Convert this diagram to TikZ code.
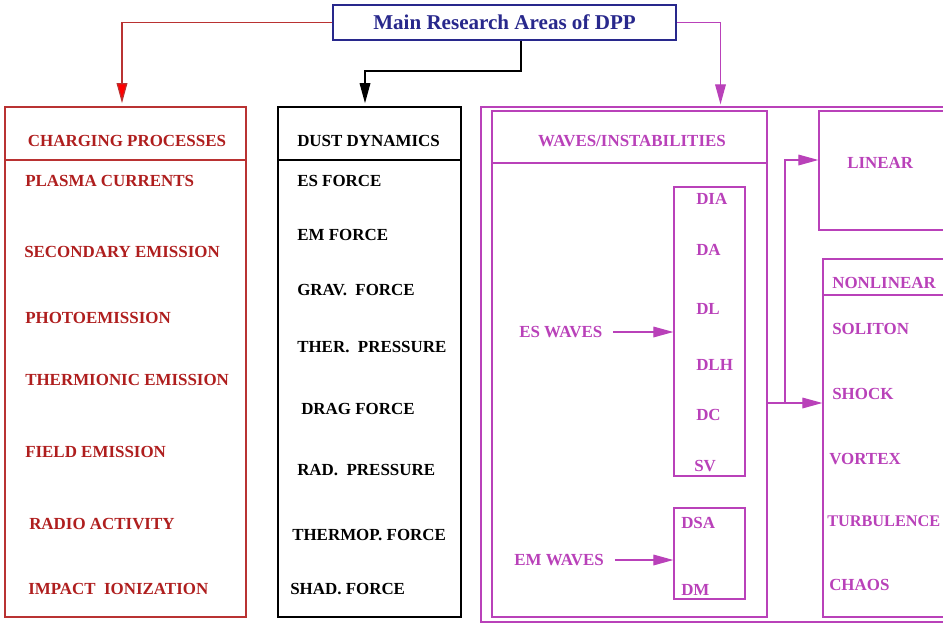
\documentclass[tikz,border=0pt]{standalone}
\usepackage{fontspec}
\setmainfont{Liberation Serif}
\usetikzlibrary{positioning,arrows.meta,calc}
\definecolor{dppred}{RGB}{185,50,50}
\definecolor{dpptext}{RGB}{175,30,30}
\definecolor{dppblue}{RGB}{40,40,140}
\definecolor{dppmag}{RGB}{185,65,185}

\begin{document}
\begin{tikzpicture}[x=0.75pt, y=-0.75pt,
      frame/.style={draw, line width=1.2pt, minimum width=#1, inner sep=0pt},
      lbl/.style={anchor=west, inner sep=0pt, font=\fontsize{12.7}{14}\selectfont\bfseries},
      hd/.style={inner sep=0pt, font=\fontsize{12.7}{14}\selectfont\bfseries},
      arr/.style={-{Triangle[length=15pt, width=8pt]}, line width=0.9pt}]
    \useasboundingbox (0,0) rectangle (943,625);
    \clip (0,0) rectangle (943,625);
    % title
    \node[draw=dppblue, line width=1.8pt, minimum width=257pt, minimum height=26pt,
          text=dppblue, font=\fontsize{15.8}{18}\selectfont\bfseries] (title) at (504.5,22.5)
          {Main Research Areas of DPP};
    % three columns
    \node[frame=181pt, draw=dppred, minimum height=382.5pt] (charge) at (125.5,362) {};
    \node[frame=137pt, draw=black, minimum height=382.5pt] (dust) at (369.5,362) {};
    \node[frame=359pt, draw=dppmag, minimum height=386pt] (outer) at (720.5,364.5) {};
    \node[frame=206pt, draw=dppmag, minimum height=379.5pt] (waves) at (629.5,364) {};
    \node[frame=53pt, draw=dppmag, minimum height=217pt] (esbox) at (709.5,331.5) {};
    \node[frame=53pt, draw=dppmag, minimum height=68pt] (embox) at (709.5,553.5) {};
    \node[frame=113pt, draw=dppmag, minimum height=89pt] (linear) at (894.5,170.5) {};
    \node[frame=110pt, draw=dppmag, minimum height=268.5pt] (nonlin) at (896.5,438) {};
    \draw[dppred, line width=1.2pt] (charge.west |- 0,160) -- (charge.east |- 0,160);
    \draw[black, line width=1.2pt] (dust.west |- 0,160) -- (dust.east |- 0,160);
    \draw[dppmag, line width=1.2pt] (waves.west |- 0,163) -- (waves.east |- 0,163);
    \draw[dppmag, line width=1.2pt] (nonlin.west |- 0,295) -- (nonlin.east |- 0,295);
    % connectors from the title
    \draw[arr, dppred, -{Triangle[length=15pt, width=8pt, fill=red]}] (title.west) -| ($(charge.north)+(-3.5,-3)$);
    \draw[arr, black] ($(title.south)+(16.5,0)$) -- ++(0,30) -| ($(dust.north)+(-4.5,-3)$);
    \draw[arr, dppmag] (title.east) -| ($(outer.north)+(0,-2)$);
    % charging processes
    \node[hd, text=dpptext] (chargehd) at (127,141) {CHARGING PROCESSES};
    \node[lbl, text=dpptext] (plasma) at (25,181) {PLASMA CURRENTS};
    \node[lbl, text=dpptext] (second) at (24,252) {SECONDARY EMISSION};
    \node[lbl, text=dpptext] (photo) at (25,318) {PHOTOEMISSION};
    \node[lbl, text=dpptext] (thermion) at (25,380) {THERMIONIC EMISSION};
    \node[lbl, text=dpptext] (field) at (25,452) {FIELD EMISSION};
    \node[lbl, text=dpptext] (radio) at (29,524) {RADIO ACTIVITY};
    \node[lbl, text=dpptext] (impact) at (28,589) {IMPACT\ \ IONIZATION};
    % dust dynamics
    \node[lbl] (dusthd) at (297,141) {DUST DYNAMICS};
    \node[lbl] (esforce) at (297,181) {ES FORCE};
    \node[lbl] (emforce) at (297,235) {EM FORCE};
    \node[lbl] (grav) at (297,290) {GRAV.\ \ FORCE};
    \node[lbl] (therp) at (297,347) {THER.\ \ PRESSURE};
    \node[lbl] (drag) at (301,409) {DRAG FORCE};
    \node[lbl] (radp) at (297,470) {RAD.\ \ PRESSURE};
    \node[lbl] (thermop) at (292,535) {THERMOP. FORCE};
    \node[lbl] (shad) at (290,589) {SHAD. FORCE};
    % waves / instabilities
    \node[hd, text=dppmag] (waveshd) at (632,141) {WAVES/INSTABILITIES};
    \node[lbl, text=dppmag] (eswaves) at (519,332) {ES WAVES};
    \node[lbl, text=dppmag] (emwaves) at (514,560) {EM WAVES};
    \node[lbl, text=dppmag] (dia) at (696,199) {DIA};
    \node[lbl, text=dppmag] (da) at (696,250) {DA};
    \node[lbl, text=dppmag] (dl) at (696,309) {DL};
    \node[lbl, text=dppmag] (dlh) at (696,365) {DLH};
    \node[lbl, text=dppmag] (dc) at (696,415) {DC};
    \node[lbl, text=dppmag] (sv) at (694,466) {SV};
    \node[lbl, text=dppmag] (dsa) at (681,523) {DSA};
    \node[lbl, text=dppmag] (dm) at (681,590) {DM};
    \draw[arr, dppmag] ([xshift=8pt]eswaves.east) -- (esbox.west |- eswaves);
    \draw[arr, dppmag] ([xshift=8pt]emwaves.east) -- (embox.west |- emwaves);
    % linear / nonlinear
    \node[lbl, text=dppmag] (linhd) at (847,163) {LINEAR};
    \node[lbl, text=dppmag] (nonlinhd) at (832,283) {NONLINEAR};
    \node[lbl, text=dppmag] (soliton) at (832,329) {SOLITON};
    \node[lbl, text=dppmag] (shock) at (832,394) {SHOCK};
    \node[lbl, text=dppmag] (vortex) at (829,459) {VORTEX};
    \node[lbl, text=dppmag] (turb) at (827,521) {\fontsize{12.2}{14}\selectfont TURBULENCE};
    \node[lbl, text=dppmag] (chaos) at (829,585) {CHAOS};
    \coordinate (split) at (785,403);
    \draw[dppmag, line width=0.9pt] (waves.east |- split) -- (split);
    \draw[arr, dppmag] (split) |- ($(linear.west)+(0,-10.5)$);
    \draw[arr, dppmag] (split) -- (nonlin.west |- split);
\end{tikzpicture}
\end{document}
